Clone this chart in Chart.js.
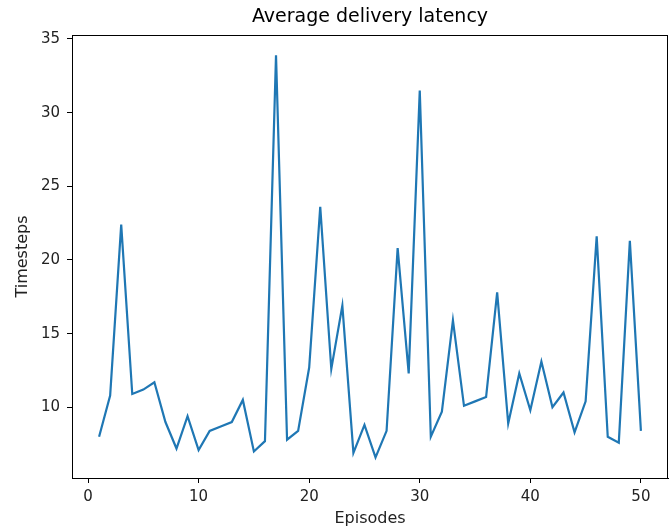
<!DOCTYPE html>
<html>
<head>
<meta charset="utf-8">
<script src="https://cdn.jsdelivr.net/npm/chart.js@4"></script>
<style>
  html, body { margin: 0; padding: 0; background: #fff; }
  #wrap { width: 671px; height: 529px; }
</style>
</head>
<body>
<div id="wrap"><canvas id="myChart" width="671" height="529"></canvas></div>
<script>
// Episodes 1..50 and the average latency
const episodes = [];
for (let i = 1; i <= 50; i++) episodes.push(i);

const latency = [
  8.0, 10.8, 22.4, 10.9, 11.2, 11.7, 9.0, 7.2, 9.4, 7.1,
  8.4, 8.7, 9.0, 10.5, 7.0, 7.7, 33.9, 7.8, 8.4, 12.7,
  23.6, 12.6, 16.9, 6.9, 8.8, 6.6, 8.4, 20.8, 12.3, 31.5,
  8.0, 9.7, 15.9, 10.1, 10.4, 10.7, 17.8, 8.9, 12.3, 9.8,
  13.1, 10.0, 11.0, 8.3, 10.4, 21.6, 8.0, 7.6, 21.3, 8.4
];

const xTicks = [0, 10, 20, 30, 40, 50];
const yTicks = [10, 15, 20, 25, 30, 35];

const font = 'DejaVu Sans';

// draws the title and the top/right spines like matplotlib
const framePlugin = {
  id: 'frame',
  afterDraw(chart) {
    const { ctx, chartArea } = chart;
    ctx.save();
    ctx.strokeStyle = '#000';
    ctx.lineWidth = 1;
    ctx.strokeRect(chartArea.left + 0.5, chartArea.top + 0.5,
      chartArea.right - chartArea.left - 1, chartArea.bottom - chartArea.top);
    ctx.fillStyle = '#000';
    ctx.font = '19px "' + font + '"';
    ctx.textAlign = 'center';
    ctx.textBaseline = 'middle';
    ctx.fillText('Average delivery latency', (chartArea.left + chartArea.right) / 2, 17);
    ctx.restore();
  }
};

const ctx = document.getElementById('myChart');

new Chart(ctx, {
  type: 'line',
  data: {
    datasets: [{
      label: 'latency',
      data: episodes.map((e, i) => ({ x: e, y: latency[i] })),
      borderColor: '#1f77b4',
      borderWidth: 2.2,
      pointRadius: 0,
      tension: 0,
      fill: false
    }]
  },
  options: {
    responsive: false,
    animation: false,
    layout: { padding: { top: 35, right: 3, left: 0, bottom: 0 } },
    plugins: {
      legend: { display: false },
      tooltip: { enabled: false }
    },
    scales: {
      x: {
        type: 'linear',
        min: -1.45,
        max: 52.45,
        afterBuildTicks: axis => { axis.ticks = xTicks.map(v => ({ value: v })); },
        afterFit: axis => { axis.height = 51; },
        grid: { drawOnChartArea: false, drawTicks: true, tickLength: 5, tickColor: '#000' },
        border: { display: true, color: '#000' },
        ticks: { color: '#222', font: { family: font, size: 15 }, padding: 5, maxRotation: 0 },
        title: { display: true, text: 'Episodes', color: '#222', font: { family: font, size: 16 }, padding: { top: 0, bottom: 1 } }
      },
      y: {
        type: 'linear',
        min: 5.2,
        max: 35.27,
        afterBuildTicks: axis => { axis.ticks = yTicks.map(v => ({ value: v })); },
        afterFit: axis => { axis.width = 72; },
        grid: { drawOnChartArea: false, drawTicks: true, tickLength: 5, tickColor: '#000' },
        border: { display: true, color: '#000' },
        ticks: { color: '#222', font: { family: font, size: 15 }, padding: 7 },
        title: { display: true, text: 'Timesteps', color: '#222', font: { family: font, size: 16 }, padding: { top: 13, bottom: 0 } }
      }
    }
  },
  plugins: [framePlugin]
});
</script>
</body>
</html>
